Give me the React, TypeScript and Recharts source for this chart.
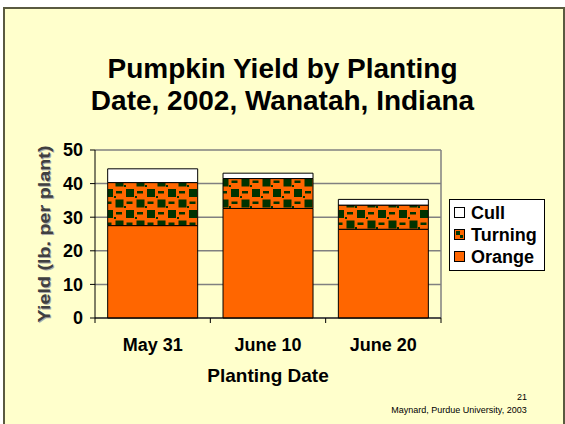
import * as React from "react";
import {
  BarChart,
  Bar,
  XAxis,
  YAxis,
  CartesianGrid,
  ReferenceLine,
} from "recharts";

const dates = ["May 31", "June 10", "June 20"];
const orange = [27.5, 32.6, 26.4];
const turning = [12.8, 8.9, 7.2];
const cull = [4.1, 1.6, 1.7];
const yTicks = [0, 10, 20, 30, 40, 50];

const data = dates.map((d, i) => ({
  date: d,
  Orange: orange[i],
  Turning: turning[i],
  Cull: cull[i],
}));

const FONT = "'Liberation Sans', Arial, sans-serif";
const BG = "#FFFFCC";
const ORANGE = "#FF6600";
const GREEN = "#003300";

const legendItems = ["Cull", "Turning", "Orange"];

// legend sits outside the chart so it does not shrink the plot
const ChartLegend = () => (
  <div
    style={{
      position: "absolute",
      left: 449,
      top: 199,
      width: 96,
      height: 72,
      background: "#FFFFFF",
      border: "1px solid #000",
      padding: "2px 0 0 4px",
      boxSizing: "border-box",
      fontFamily: FONT,
      fontWeight: "bold",
      fontSize: 18,
      lineHeight: "22px",
    }}
  >
    {legendItems.map((name) => (
      <div key={name} style={{ display: "flex", alignItems: "center" }}>
        <svg width={13} height={12} style={{ marginRight: 4 }}>
          <rect
            x={0.5}
            y={0.5}
            width={10}
            height={10}
            fill={name === "Cull" ? "#FFFFFF" : ORANGE}
            stroke="#000"
          />
          {name === "Turning" && (
            <>
              <rect x={2} y={2} width={4} height={4} fill={GREEN} />
              <rect x={6} y={6} width={3} height={3} fill={GREEN} />
            </>
          )}
        </svg>
        <span>{name}</span>
      </div>
    ))}
  </div>
);

const XTick = (props: any) => {
  const { x, y, payload, index, visibleTicksCount } = props;
  const half = payload && payload.offset ? payload.offset : 57.5;
  const top = y - 21;
  return (
    <g>
      <line x1={x - half} x2={x - half} y1={top} y2={top + 5} stroke="#000" />
      {index === visibleTicksCount - 1 && (
        <line x1={x + half} x2={x + half} y1={top} y2={top + 5} stroke="#000" />
      )}
      <text
        x={x}
        y={y + 12}
        textAnchor="middle"
        fontFamily={FONT}
        fontWeight="bold"
        fontSize={18}
        fill="#000"
      >
        {payload.value}
      </text>
    </g>
  );
};

export default function App() {
  return (
    <div style={{ position: "absolute", left: 0, top: 0, width: 565, height: 424, background: "#fff", overflow: "hidden" }}>
      <div
        style={{
          position: "absolute",
          left: 3,
          top: 7,
          width: 558,
          height: 420,
          background: BG,
          border: "2px solid #5a5a40",
        }}
      />
      <div
        style={{
          position: "absolute",
          left: 0,
          top: 53,
          width: 565,
          textAlign: "center",
          fontFamily: FONT,
          fontWeight: "bold",
          fontSize: 28,
          lineHeight: "32px",
          color: "#000",
        }}
      >
        Pumpkin Yield by Planting
        <br />
        Date, 2002, Wanatah, Indiana
      </div>
      <svg style={{ position: "absolute", left: 0, top: 0 }} width={565} height={424}>
        <g fontFamily={FONT} fontWeight="bold" fontSize={17} textAnchor="middle">
          <text x={45} y={235} transform="rotate(-90 45 235)" dy="0.35em" fill="#a8a8a8" textLength={177} lengthAdjust="spacingAndGlyphs">
            Yield (lb. per plant)
          </text>
          <text x={44} y={234} transform="rotate(-90 44 234)" dy="0.35em" fill="#404040" textLength={177} lengthAdjust="spacingAndGlyphs">
            Yield (lb. per plant)
          </text>
        </g>
        <text x={268} y={382} textAnchor="middle" fontFamily={FONT} fontWeight="bold" fontSize={19} fill="#000">
          Planting Date
        </text>
        <text x={522} y={400} textAnchor="middle" fontFamily={FONT} fontSize={9} fill="#000">
          21
        </text>
        <text x={459} y={413} textAnchor="middle" fontFamily={FONT} fontSize={9} fill="#000">
          Maynard, Purdue University, 2003
        </text>
      </svg>
      <div style={{ position: "absolute", left: 0, top: 0 }}>
        <BarChart
          width={565}
          height={424}
          data={data}
          margin={{ top: 150, right: 124, bottom: 76, left: 35 }}
          barCategoryGap="11%"
        >
          <defs>
            <pattern id="turnPat" patternUnits="userSpaceOnUse" width={21} height={21}>
              <rect x={0} y={0} width={21} height={21} fill={ORANGE} />
              <rect x={0} y={0} width={8} height={8} fill={GREEN} />
              <rect x={10.5} y={10.5} width={8} height={8} fill={GREEN} />
              <rect x={11} y={2} width={6} height={2.5} fill={GREEN} />
              <rect x={0.5} y={12.5} width={6} height={2.5} fill={GREEN} />
              <rect x={9} y={7} width={2} height={2} fill={GREEN} />
              <rect x={19} y={17} width={2} height={2} fill={GREEN} />
            </pattern>
          </defs>
          <CartesianGrid vertical={false} stroke="#808080" strokeWidth={1.5} />
          <ReferenceLine x="June 20" position="end" stroke="#808080" strokeWidth={1.5} />
          <XAxis
            dataKey="date"
            height={30}
            axisLine={{ stroke: "#000" }}
            tickLine={false}
            tickSize={5}
            tickMargin={16}
            tick={<XTick />}
            interval={0}
          />
          <YAxis
            width={60}
            domain={[0, 50]}
            ticks={yTicks}
            axisLine={{ stroke: "#000" }}
            tickLine={{ stroke: "#000" }}
            tickSize={5}
            tickMargin={7}
            tick={{ fontFamily: FONT, fontWeight: "bold", fontSize: 18, fill: "#000" }}
            interval={0}
          />
          <Bar dataKey="Orange" stackId="a" fill={ORANGE} stroke="#000" strokeWidth={1} isAnimationActive={false} />
          <Bar dataKey="Turning" stackId="a" fill="url(#turnPat)" stroke="#000" strokeWidth={1} isAnimationActive={false} />
          <Bar dataKey="Cull" stackId="a" fill="#FFFFFF" stroke="#000" strokeWidth={1} isAnimationActive={false} />
        </BarChart>
      </div>
      <ChartLegend />
    </div>
  );
}
